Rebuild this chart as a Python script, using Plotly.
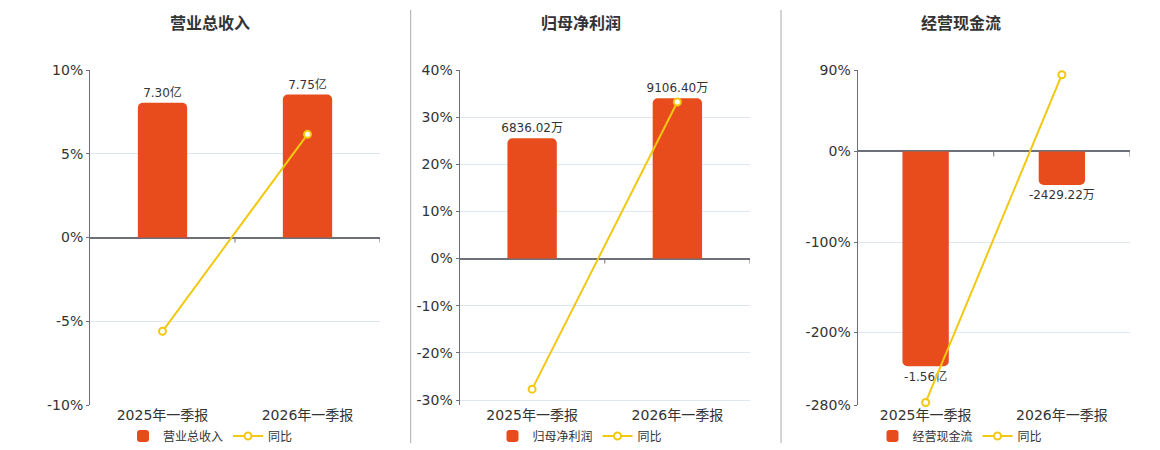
import plotly.graph_objects as go

# ---------------- data ----------------
categories = ["2025年一季报", "2026年一季报"]

titles = ["营业总收入", "归母净利润", "经营现金流"]

revenue_yi = [7.30, 7.75]                 # 亿
revenue_labels = ["7.30亿", "7.75亿"]
revenue_yoy = [-5.6, 6.16]                # %

profit_wan = [6836.02, 9106.40]           # 万
profit_labels = ["6836.02万", "9106.40万"]
profit_yoy = [-27.7, 33.21]               # %

cash_wan = [-15600.0, -2429.22]           # 万
cash_labels = ["-1.56亿", "-2429.22万"]
cash_yoy = [-277.2, 84.8]                 # %

yoy_name = "同比"

pct_ticks_1 = [-10, -5, 0, 5, 10]
pct_text_1 = ["-10%", "-5%", "0%", "5%", "10%"]
pct_ticks_2 = [-30, -20, -10, 0, 10, 20, 30, 40]
pct_text_2 = ["-30%", "-20%", "-10%", "0%", "10%", "20%", "30%", "40%"]
pct_ticks_3 = [-280, -200, -100, 0, 90]
pct_text_3 = ["-280%", "-200%", "-100%", "0%", "90%"]

# ---------------- style ----------------
W, H = 1160, 450
BAR_COLOR = "#E84C1C"
LINE_COLOR = "#F2C811"
AXIS_COLOR = "#6E7079"
GRID_COLOR = "#E0E6F1"
TEXT_COLOR = "#333333"
FONT = "DejaVu Sans, Noto Sans CJK SC, sans-serif"

def px_x(p):
    return p / W

def px_y(p):
    return 1 - p / H

y_dom = [px_y(405), px_y(70)]
x_doms = [[px_x(90), px_x(380)], [px_x(459.5), px_x(750)], [px_x(857.5), px_x(1130)]]

pct_ranges = [[-10, 10], [-31.06, 40], [-280, 90]]
bar_scale = [0.908, 267.8, 65.8]   # bar units per percent, aligns zero of both axes

panels = [
    (revenue_yi, revenue_labels, revenue_yoy, pct_ticks_1, pct_text_1),
    (profit_wan, profit_labels, profit_yoy, pct_ticks_2, pct_text_2),
    (cash_wan, cash_labels, cash_yoy, pct_ticks_3, pct_text_3),
]

legend_x = [210.5, 580, 960]
title_x = [210, 581, 961]

fig = go.Figure()
layout = dict(
    width=W, height=H,
    margin=dict(l=0, r=0, t=0, b=0, pad=0, autoexpand=False),
    paper_bgcolor="white", plot_bgcolor="white",
    font=dict(family=FONT, color=TEXT_COLOR),
    showlegend=True,
    barcornerradius=5,
)
shapes = []
annotations = []

for i, (vals, labels, yoy, tv, tt) in enumerate(panels):
    n = i + 1
    xs = "" if n == 1 else str(n)
    bar_ax = "" if n == 1 else str(n)
    pct_ax = str(n + 3)
    leg = "legend" if n == 1 else f"legend{n}"

    fig.add_trace(go.Bar(
        x=categories, y=vals, name=titles[i],
        xaxis="x" + xs, yaxis="y" + bar_ax,
        marker=dict(color=BAR_COLOR, line=dict(width=0)),
        width=0.34,
        text=labels, textposition="outside", cliponaxis=False,
        constraintext="none",
        textfont=dict(size=12, color=TEXT_COLOR, family=FONT),
        legend=leg, hoverinfo="skip",
    ))
    fig.add_trace(go.Scatter(
        x=categories, y=yoy, name=yoy_name,
        xaxis="x" + xs, yaxis="y" + pct_ax,
        mode="lines+markers",
        line=dict(color=LINE_COLOR, width=2),
        marker=dict(symbol="circle", size=7, color="white",
                    line=dict(color=LINE_COLOR, width=2)),
        legend=leg, cliponaxis=False, hoverinfo="skip",
    ))

    pr = pct_ranges[i]
    k = bar_scale[i]
    layout["xaxis" + xs] = dict(
        domain=x_doms[i], anchor="y" + pct_ax, type="category",
        range=[-0.5, 1.5], showline=False, showgrid=False, ticks="",
        tickfont=dict(size=14, color=TEXT_COLOR), fixedrange=True,
    )
    layout["yaxis" + bar_ax] = dict(
        domain=y_dom, anchor="x" + xs, range=[pr[0] * k, pr[1] * k],
        visible=False, showgrid=False, zeroline=False, fixedrange=True,
    )
    layout["yaxis" + pct_ax] = dict(
        overlaying="y" + bar_ax, anchor="x" + xs, side="left",
        range=pr, tickvals=tv, ticktext=tt,
        showgrid=True, gridcolor=GRID_COLOR, gridwidth=1,
        zeroline=True, zerolinecolor=AXIS_COLOR, zerolinewidth=2,
        showline=True, linecolor=AXIS_COLOR, linewidth=1,
        ticks="outside", ticklen=3, tickcolor=AXIS_COLOR,
        tickfont=dict(size=14, color=TEXT_COLOR), fixedrange=True,
    )
    layout[leg] = dict(
        orientation="h", x=px_x(legend_x[i]), xanchor="center",
        y=px_y(436), yanchor="middle",
        font=dict(size=12, color=TEXT_COLOR, family=FONT),
        bgcolor="rgba(0,0,0,0)", itemwidth=30, tracegroupgap=0,
    )
    for bx in (0.5, 1.5):
        shapes.append(dict(
            type="line", xref="x" + xs, yref="y" + pct_ax,
            x0=bx, x1=bx, ysizemode="pixel", yanchor=0, y0=0, y1=-5,
            line=dict(color=AXIS_COLOR, width=1),
        ))
    annotations.append(dict(
        text=titles[i], xref="paper", yref="paper",
        x=px_x(title_x[i]), y=px_y(23), xanchor="center", yanchor="middle",
        showarrow=False,
        font=dict(size=16, color=TEXT_COLOR, family=FONT, weight="bold"),
    ))

for sx in (410.7, 781):
    shapes.append(dict(
        type="line", xref="paper", yref="paper",
        x0=px_x(sx), x1=px_x(sx), y0=px_y(443), y1=px_y(10),
        line=dict(color="#AAAAAA", width=1),
    ))

layout["shapes"] = shapes
layout["annotations"] = annotations
fig.update_layout(**layout)

fig.write_html("out.html", config={"displayModeBar": False},
               post_script="document.body.style.margin='0';document.documentElement.style.overflow='hidden';")
